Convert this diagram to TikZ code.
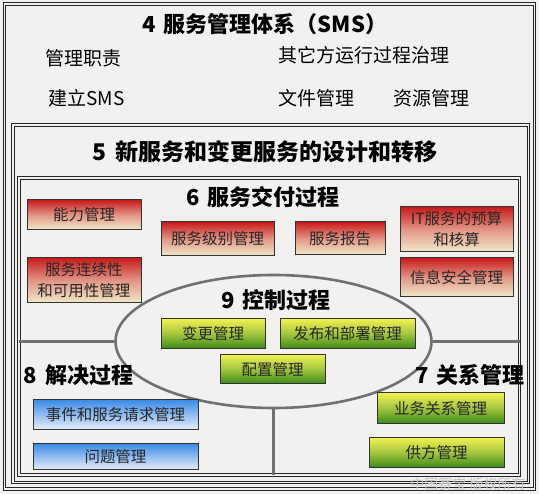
\documentclass[tikz,border=0pt]{standalone}
\usepackage{fontspec}
\setmainfont{Noto Sans CJK SC}
\usepackage{xcolor}
\usetikzlibrary{positioning, shapes.geometric}

\definecolor{bgc}{RGB}{242,241,239}
\definecolor{redtop}{RGB}{200,28,28}
\definecolor{redmid}{RGB}{226,150,135}
\definecolor{redbot}{RGB}{240,234,200}
\definecolor{grntop}{RGB}{240,240,80}
\definecolor{grnmid}{RGB}{160,196,64}
\definecolor{grnbot}{RGB}{56,136,20}
\definecolor{blutop}{RGB}{60,140,230}
\definecolor{blumid}{RGB}{150,190,240}
\definecolor{blubot}{RGB}{232,238,250}
\definecolor{divc}{RGB}{112,112,112}

\begin{document}
\begin{tikzpicture}[
  x=1pt, y=-1pt,
  frame/.style={draw=black!85, double=bgc, double distance=1.5pt,
                line width=0.8pt, inner sep=0pt},
  pbox/.style={draw=black!80, line width=1pt, inner sep=0pt, align=center,
               font=\fontsize{15.5}{21}\selectfont, text=black!85},
  redbox/.style={pbox, top color=redtop, bottom color=redbot, middle color=redmid},
  grnbox/.style={pbox, top color=grntop, bottom color=grnbot, middle color=grnmid},
  blubox/.style={pbox, top color=blutop, bottom color=blubot, middle color=blumid},
  ttl/.style={font=\bfseries\fontsize{22}{26}\selectfont},
  txt/.style={font=\fontsize{19}{22}\selectfont, anchor=west},
  divline/.style={draw=divc, line width=2.6pt},
]
\useasboundingbox[fill=bgc] (0,0) rectangle (539,494);

%% ---- the three nested frames (4, 5, 6) ----
\node[frame, minimum width=530pt, minimum height=485pt] (sms) at (269.5,246.5) {};
\node[frame, minimum width=515.5pt, minimum height=357.5pt] (dsn) at (270.75,303.75) {};
\node[frame, minimum width=500.5pt, minimum height=297pt] (dlv) at (269.25,326.5) {};

%% ---- 4: the management system ----
\node[ttl] (t4) at (265,24) {4\hspace{0.35em}服务管理体系（SMS）};
\node[txt] (resp) at (42,58) {管理职责};
\node[txt] (gov)  at (275,55) {其它方运行过程治理};
\node[txt] (est)  at (45,98) {建立SMS};
\node[txt] (doc)  at (275,98) {文件管理};
\node[txt] (res)  at (390,98) {资源管理};

%% ---- 5 and 6 titles ----
\node[ttl, font=\bfseries\fontsize{23}{26}\selectfont] (t5) at (265,152)
  {5\hspace{0.35em}新服务和变更服务的设计和转移};
\node[ttl] (t6) at (263,197) {6\hspace{0.35em}服务交付过程};

%% ---- 6: the delivery boxes ----
\node[redbox, minimum width=114pt, minimum height=30pt] (cap)  at (84,215) {能力管理};
\node[redbox, minimum width=114pt, minimum height=45pt] (cont) at (84,280.5) {服务连续性\\和可用性管理};
\node[redbox, minimum width=113pt, minimum height=34pt] (slm)  at (217.5,239) {服务级别管理};
\node[redbox, minimum width=90pt,  minimum height=33pt] (rpt)  at (340,238.5) {服务报告};
\node[redbox, minimum width=113pt, minimum height=45pt] (bud)  at (456.5,229.5) {IT服务的预算\\和核算};
\node[redbox, minimum width=113pt, minimum height=39pt] (isec) at (456.5,277.5) {信息安全管理};

%% ---- 9: control processes in the ellipse ----
\node[ellipse, draw=divc, line width=2.6pt, minimum width=316pt, minimum height=133pt,
      inner sep=0pt] (ctl) at (273.5,341.5) {};
\node[ttl] (t9) at (276,300) {9\hspace{0.35em}控制过程};
\node[grnbox, minimum width=104pt, minimum height=30pt] (chg) at (213,334) {变更管理};
\node[grnbox, minimum width=135pt, minimum height=30pt] (rdm) at (347.5,334) {发布和部署管理};
\node[grnbox, minimum width=105pt, minimum height=29pt] (cfg) at (272.5,369.5) {配置管理};

%% ---- dividers between 8 and 7 ----
\draw[divline] (ctl.west) -- (ctl.west -| dlv.west);
\draw[divline] (ctl.east) -- (ctl.east -| dlv.east);
\draw[divline] (ctl.south) -- (ctl.south |- dlv.south);

%% ---- 8: resolution ----
\node[ttl] (t8) at (78.5,375) {8\hspace{0.35em}解决过程};
\node[blubox, minimum width=165pt, minimum height=30pt] (inc) at (115.5,415) {事件和服务请求管理};
\node[blubox, minimum width=165pt, minimum height=26pt] (prb) at (115.5,457) {问题管理};

%% ---- 7: relationships ----
\node[ttl] (t7) at (470,375) {7\hspace{0.35em}关系管理};
\node[grnbox, minimum width=127pt, minimum height=31pt] (brm)  at (440.5,408.5) {业务关系管理};
\node[grnbox, minimum width=135pt, minimum height=30pt] (supm) at (436.5,453) {供方管理};

%% watermark
\node[font=\fontsize{14}{16}\selectfont, text=black!22] (wm) at (468,484) {中国赛宝\ 版权所有};
\end{tikzpicture}
\end{document}
